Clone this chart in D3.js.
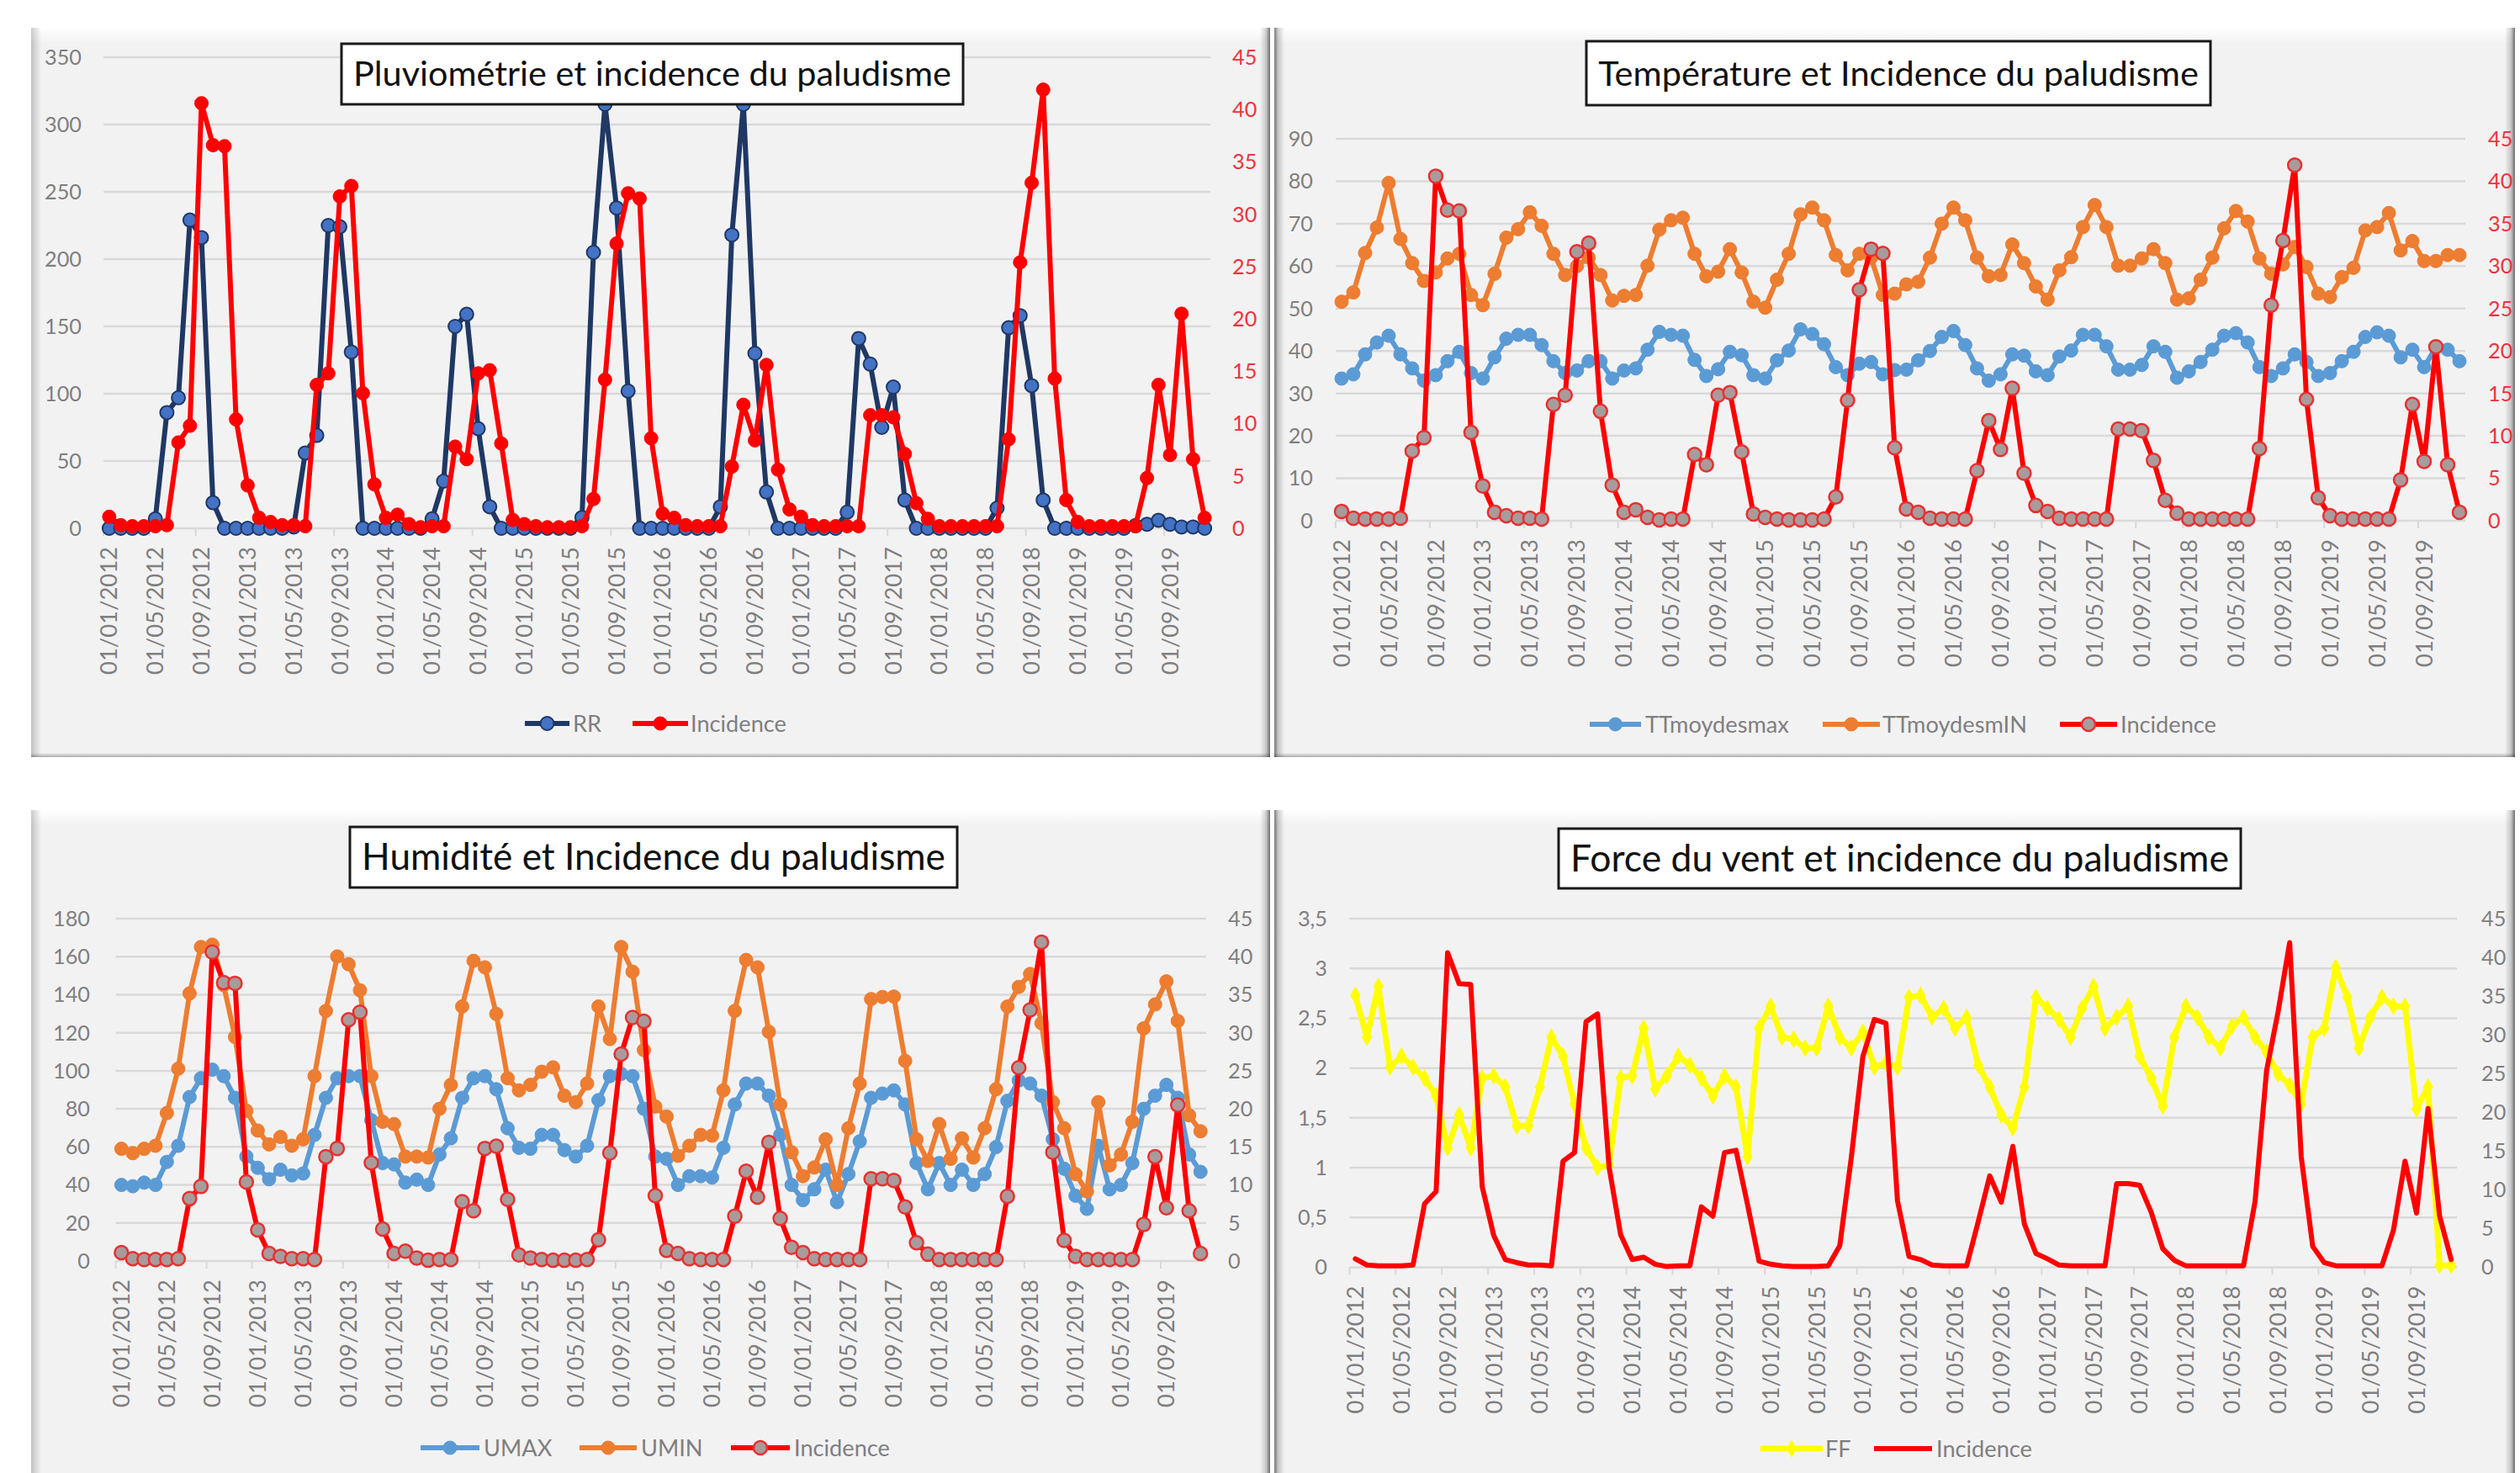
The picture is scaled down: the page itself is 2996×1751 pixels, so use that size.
<!DOCTYPE html>
<html><head><meta charset="utf-8">
<script src="https://cdn.jsdelivr.net/npm/d3@7"></script>
<style>html,body{margin:0;padding:0;background:#fff;} svg{display:block;}</style>
</head><body>
<svg id="c" width="2996" height="1751"></svg>
<script>
// ---------- DATA ----------
const years = [2012, 2013, 2014, 2015, 2016, 2017, 2018, 2019];
const monthNums = ["01","02","03","04","05","06","07","08","09","10","11","12"];
const categories = years.flatMap(y => monthNums.map(m => `01/${m}/${y}`));
const tickLabels = ["01/01/2012","01/05/2012","01/09/2012","01/01/2013","01/05/2013","01/09/2013",
  "01/01/2014","01/05/2014","01/09/2014","01/01/2015","01/05/2015","01/09/2015",
  "01/01/2016","01/05/2016","01/09/2016","01/01/2017","01/05/2017","01/09/2017",
  "01/01/2018","01/05/2018","01/09/2018","01/01/2019","01/05/2019","01/09/2019"];

const incidence = [1.1,0.3,0.2,0.2,0.2,0.3,8.2,9.8,40.6,36.6,36.5,10.4,
  4.1,1.0,0.6,0.3,0.3,0.2,13.7,14.8,31.7,32.7,12.9,4.2,
  1.0,1.3,0.4,0.1,0.2,0.2,7.8,6.6,14.8,15.1,8.1,0.8,
  0.4,0.2,0.1,0.1,0.1,0.2,2.8,14.2,27.2,32.0,31.5,8.6,
  1.4,1.0,0.3,0.2,0.2,0.2,5.9,11.8,8.4,15.6,5.6,1.8,
  1.1,0.3,0.2,0.2,0.2,0.2,10.8,10.8,10.6,7.1,2.4,0.9,
  0.2,0.2,0.2,0.2,0.2,0.2,8.5,25.4,33.0,41.9,14.3,2.7,
  0.6,0.2,0.2,0.2,0.2,0.2,4.8,13.7,7.0,20.5,6.6,1.0];

const RR = [0,0,0,0,7,86,97,229,216,19,0,0,
  0,0,0,0,1,56,69,225,224,131,0,0,
  0,0,0,0,7,35,150,159,74,16,0,0,
  0,0,0,0,0,8,205,315,238,102,0,0,
  0,0,0,0,0,16,218,315,130,27,0,0,
  0,0,0,0,12,141,122,75,105,21,0,0,
  0,0,0,0,0,15,149,158,106,21,0,0,
  0,0,0,0,0,2,3,6,3,1,1,0];

const TTmoydesmax = [33.5,34.5,39.2,42.0,43.6,39.2,35.9,33.0,34.3,37.6,39.8,34.8,
  33.5,38.5,42.9,43.8,43.8,41.4,37.6,34.8,35.4,37.6,37.6,33.5,
  35.4,35.9,40.3,44.5,43.8,43.6,37.9,34.1,35.7,39.8,39.0,34.3,
  33.5,37.8,40.1,45.1,44.0,41.6,36.2,34.3,37.0,37.4,34.5,35.5,
  35.6,37.8,40.0,43.3,44.7,41.4,35.9,33.0,34.5,39.2,38.9,35.2,
  34.3,38.7,40.1,43.8,43.8,41.1,35.6,35.6,36.7,41.1,39.8,33.7,
  35.2,37.4,40.3,43.6,44.2,42.0,36.2,34.1,35.9,39.2,37.4,34.1,
  34.8,37.6,39.8,43.3,44.4,43.6,38.5,40.3,36.2,40.9,40.3,37.6];

const TTmoydesmIN = [51.6,53.8,63.1,69.1,79.6,66.4,60.7,56.5,58.5,61.8,62.9,53.2,
  50.8,58.2,66.7,68.7,72.7,69.5,62.9,57.9,60.0,62.0,57.9,51.9,
  53.0,53.2,60.1,68.6,70.8,71.4,62.9,57.6,58.7,64.0,58.5,51.6,
  50.2,56.8,62.9,72.2,73.8,70.8,62.6,59.0,62.9,62.0,53.2,53.5,
  55.7,56.3,62.0,70.0,73.8,70.8,62.0,57.6,57.9,65.1,60.7,55.2,
  52.1,59.0,62.1,69.2,74.4,69.2,60.1,60.1,61.8,64.0,60.7,52.1,
  52.4,56.8,62.0,68.9,73.0,70.5,61.8,58.2,60.4,64.5,59.8,53.5,
  52.7,57.4,59.6,68.4,69.2,72.5,63.7,65.9,61.2,61.2,62.6,62.6];

const UMAX = [40,39.3,41.2,40,52.1,60.6,86.2,96.1,100.6,97.2,85.8,55,
  49,43,48,45,46,66.3,85.8,96.1,97.2,97.2,74,51.5,
  50.8,41.2,42.8,40,56,64.5,85.8,96.1,97.2,90.3,69.8,59.5,
  59,66.3,66.3,58.3,54.9,60.6,84.6,97.2,98.4,97.2,80,54.9,
  53.7,40,44.6,44.6,43.9,59.5,82.3,93.3,93.3,86.9,66.3,40,
  32,37.7,48,30.9,45.7,62.9,85.8,88,89.7,82.3,51.5,37.7,
  51.5,40,48,40,45.7,59.9,84.2,94.9,93.3,86.9,64,48.5,
  34.3,27.4,60.6,37.7,40,51.5,80,86.9,92.6,85.8,56,46.9];

const UMIN = [59,56.7,59,60.6,77.8,101.1,140.7,165.1,166.3,145,117.8,79,
  68.6,61.3,65.2,60.6,64,97.2,131.5,160.1,156,142.3,97.2,73.2,
  72,54.9,54.9,54.4,80,92.6,133.8,157.8,154.4,129.9,96.1,89.7,
  92.6,99.5,101.8,86.9,83.5,93.3,133.8,116.7,165.1,152.1,110.9,81.2,
  75.9,55.3,60.6,66.3,65.9,89.7,131.5,158.3,154.4,120.5,82.3,57.2,
  44.6,49.2,64,40,69.8,93.3,137.7,138.8,139,105.2,64,52.6,
  72,53.7,64.5,54.4,69.8,90.3,133.8,144.1,150.9,125,83.5,69.8,
  45.7,36.6,83.5,50.3,56,73.2,122.3,134.9,147,126.2,76.6,68.2];

const FF = [2.73,2.31,2.82,2.01,2.12,2.01,1.90,1.72,1.20,1.53,1.2,1.9,
  1.92,1.81,1.42,1.42,1.81,2.31,2.12,1.64,1.2,1.0,1.03,1.9,
  1.92,2.4,1.79,1.92,2.12,2.03,1.9,1.72,1.92,1.81,1.11,2.4,
  2.62,2.31,2.29,2.2,2.2,2.62,2.31,2.2,2.36,2.01,2.05,2.01,
  2.71,2.73,2.51,2.6,2.4,2.51,2.03,1.81,1.53,1.4,1.81,2.71,
  2.6,2.49,2.31,2.6,2.82,2.4,2.51,2.62,2.12,1.9,1.62,2.31,
  2.62,2.51,2.31,2.2,2.42,2.51,2.31,2.16,1.94,1.83,1.64,2.31,
  2.4,3.01,2.71,2.2,2.51,2.71,2.62,2.62,1.59,1.81,0.02,0.02];

const ticksRR = [0,50,100,150,200,250,300,350];
const ticksTemp = [0,10,20,30,40,50,60,70,80,90];
const ticksHum = [0,20,40,60,80,100,120,140,160,180];
const ticksFF = [0,0.5,1,1.5,2,2.5,3,3.5];
const ticksInc = [0,5,10,15,20,25,30,35,40,45];

// ---------- LAYOUT ----------
const FONT = "Lato, 'Liberation Sans', sans-serif";
const GRAY = "#7f7f7f";
const RED_LBL = "#ee3340";
const svg = d3.select("#c");
const defs = svg.append("defs");
function grad(id, x2, y2, stops) {
  const g = defs.append("linearGradient").attr("id", id).attr("x1", 0).attr("y1", 0).attr("x2", x2).attr("y2", y2);
  stops.forEach(s => g.append("stop").attr("offset", s[0]).attr("stop-color", s[1]).attr("stop-opacity", s[2]));
}
grad("gR", 1, 0, [[0, "#000", 0], [0.6, "#000", 0.18], [1, "#000", 0.55]]);
grad("gL", 1, 0, [[0, "#000", 0.5], [0.4, "#000", 0.18], [1, "#000", 0]]);
grad("gLl", 1, 0, [[0, "#000", 0.2], [1, "#000", 0]]);
grad("gT", 0, 1, [[0, "#fff", 1], [1, "#fff", 0]]);
grad("gB", 0, 1, [[0, "#000", 0], [1, "#000", 0.3]]);

const measurer = svg.append("text").attr("font-family", FONT).attr("x", -1000).attr("y", -1000);
function fitSize(str, target, base) {
  measurer.attr("font-size", base).text(str);
  const w = measurer.node().getComputedTextLength();
  return base * target / w;
}
const xLabelSize = fitSize("01/01/2012", 152, 30);
const yLabelSize = fitSize("350", 44, 27);
const legendSize = fitSize("Incidence", 114, 26);

const panels = [
  { frame: [37, 33, 1473, 867], leftDark: false,
    x0: 123, x1: 1439, y0: 628, yTop: 68, leftMax: 350, leftTicks: ticksRR, fmt: d => String(d),
    leftLabelX: 97, rightLabelX: 1465, rightColor: RED_LBL,
    title: "Pluviométrie et incidence du paludisme", box: [406, 52, 739, 72], legendY: 860,
    series: [
      { name: "RR", values: RR, axis: "L", color: "#1f3864", width: 6, marker: "circle", r: 8, mfill: "#4472c4", mstroke: "#1f3864", mw: 2, legend: [624, 677, 681] },
      { name: "Incidence", values: incidence, axis: "R", color: "#ff0000", width: 6, marker: "circle", r: 8, mfill: "#ff0000", mstroke: "#ff0000", mw: 1, legend: [752, 818, 821] }
    ] },
  { frame: [1515, 33, 1475, 867], leftDark: true,
    x0: 1588, x1: 2931, y0: 619, yTop: 165, leftMax: 90, leftTicks: ticksTemp, fmt: d => String(d),
    leftLabelX: 1561, rightLabelX: 2958, rightColor: RED_LBL,
    title: "Température et Incidence du paludisme", box: [1886, 49, 742, 76], legendY: 861,
    series: [
      { name: "TTmoydesmax", values: TTmoydesmax, axis: "L", color: "#5b9bd5", width: 6, marker: "circle", r: 8, mfill: "#5b9bd5", mstroke: "#5b9bd5", mw: 1, legend: [1890, 1951, 1956] },
      { name: "TTmoydesmIN", values: TTmoydesmIN, axis: "L", color: "#ed7d31", width: 6, marker: "circle", r: 8, mfill: "#ed7d31", mstroke: "#ed7d31", mw: 1, legend: [2167, 2235, 2238] },
      { name: "Incidence", values: incidence, axis: "R", color: "#ff0000", width: 6, marker: "circle", r: 8, mfill: "#a99b9b", mstroke: "#e83030", mw: 2.5, legend: [2449, 2517, 2521] }
    ] },
  { frame: [37, 963, 1473, 800], leftDark: false,
    x0: 137.6, x1: 1434, y0: 1499, yTop: 1092, leftMax: 180, leftTicks: ticksHum, fmt: d => String(d),
    leftLabelX: 107, rightLabelX: 1460, rightColor: GRAY,
    title: "Humidité et Incidence du paludisme", box: [416, 983, 722, 72], legendY: 1721,
    series: [
      { name: "UMAX", values: UMAX, axis: "L", color: "#5b9bd5", width: 6, marker: "circle", r: 8, mfill: "#5b9bd5", mstroke: "#5b9bd5", mw: 1, legend: [500, 570, 575] },
      { name: "UMIN", values: UMIN, axis: "L", color: "#ed7d31", width: 6, marker: "circle", r: 8, mfill: "#ed7d31", mstroke: "#ed7d31", mw: 1, legend: [689, 757, 762] },
      { name: "Incidence", values: incidence, axis: "R", color: "#ff0000", width: 6, marker: "circle", r: 8, mfill: "#a99b9b", mstroke: "#e83030", mw: 2.5, legend: [869, 939, 944] }
    ] },
  { frame: [1515, 963, 1475, 800], leftDark: true,
    x0: 1604.5, x1: 2921, y0: 1506.5, yTop: 1092, leftMax: 3.5, leftTicks: ticksFF, fmt: d => String(d).replace(".", ","),
    leftLabelX: 1578, rightLabelX: 2950, rightColor: GRAY,
    title: "Force du vent et incidence du paludisme", box: [1853, 985, 811, 71], legendY: 1722,
    series: [
      { name: "FF", values: FF, axis: "L", color: "#ffff00", width: 7, marker: "diamond", size: 130, mfill: "#ffff00", mstroke: "#ffff00", mw: 1, legend: [2093, 2167, 2170] },
      { name: "Incidence", values: incidence, axis: "R", color: "#ff0000", width: 6, marker: null, legend: [2228, 2297, 2302] }
    ] }
];

function drawMarker(sel, s, cx, cy) {
  if (s.marker === "circle") {
    sel.append("circle").attr("cx", cx).attr("cy", cy).attr("r", s.r)
      .attr("fill", s.mfill).attr("stroke", s.mstroke).attr("stroke-width", s.mw);
  } else if (s.marker === "diamond") {
    sel.append("path").attr("d", d3.symbol(d3.symbolDiamond, s.size)())
      .attr("transform", `translate(${cx},${cy})`).attr("fill", s.mfill);
  }
}

panels.forEach(p => {
  const g = svg.append("g");
  const [fx, fy, fw, fh] = p.frame;
  // frame with bevel shading
  g.append("rect").attr("x", fx).attr("y", fy).attr("width", fw).attr("height", fh).attr("fill", "#f3f2f3");
  g.append("rect").attr("x", fx).attr("y", fy).attr("width", fw).attr("height", 18).attr("fill", "url(#gT)");
  g.append("rect").attr("x", fx).attr("y", fy).attr("width", 12).attr("height", fh).attr("fill", p.leftDark ? "url(#gL)" : "url(#gLl)");
  g.append("rect").attr("x", fx + fw - 12).attr("y", fy).attr("width", 12).attr("height", fh).attr("fill", "url(#gR)");
  g.append("rect").attr("x", fx).attr("y", fy + fh - 5).attr("width", fw).attr("height", 5).attr("fill", "url(#gB)");

  const x = d3.scalePoint().domain(categories).range([p.x0, p.x1]).padding(0.5);
  const yL = d3.scaleLinear().domain([0, p.leftMax]).range([p.y0, p.yTop]);
  const yR = d3.scaleLinear().domain([0, 45]).range([p.y0, p.yTop]);

  // gridlines
  g.append("g").selectAll("line").data(p.leftTicks).join("line")
    .attr("x1", p.x0).attr("x2", p.x1).attr("y1", d => yL(d)).attr("y2", d => yL(d))
    .attr("stroke", "#d9d9d9").attr("stroke-width", 2.5);
  // x tick marks
  g.append("g").selectAll("line").data(tickLabels).join("line")
    .attr("x1", d => x(d) - x.step() / 2).attr("x2", d => x(d) - x.step() / 2)
    .attr("y1", p.y0).attr("y2", p.y0 + 9).attr("stroke", "#d9d9d9").attr("stroke-width", 2);

  // left labels
  g.append("g").selectAll("text").data(p.leftTicks).join("text")
    .attr("x", p.leftLabelX).attr("y", d => yL(d)).attr("dy", "0.35em")
    .attr("text-anchor", "end").attr("font-family", FONT).attr("font-size", yLabelSize)
    .attr("fill", GRAY).text(p.fmt);
  // right labels
  g.append("g").selectAll("text").data(ticksInc).join("text")
    .attr("x", p.rightLabelX).attr("y", d => yR(d)).attr("dy", "0.35em")
    .attr("text-anchor", "start").attr("font-family", FONT).attr("font-size", yLabelSize)
    .attr("fill", p.rightColor).text(d => String(d));
  // x labels
  g.append("g").selectAll("text").data(tickLabels).join("text")
    .attr("transform", d => `translate(${x(d)},${p.y0 + 22}) rotate(-90)`)
    .attr("dy", "0.35em").attr("text-anchor", "end")
    .attr("font-family", FONT).attr("font-size", xLabelSize).attr("fill", GRAY).text(d => d);

  // series
  p.series.forEach(s => {
    const y = s.axis === "L" ? yL : yR;
    const line = d3.line().x((d, i) => x(categories[i])).y(d => y(d));
    const sg = g.append("g");
    sg.append("path").datum(s.values).attr("d", line).attr("fill", "none")
      .attr("stroke", s.color).attr("stroke-width", s.width)
      .attr("stroke-linejoin", "round").attr("stroke-linecap", "round");
    if (s.marker) s.values.forEach((v, i) => drawMarker(sg, s, x(categories[i]), y(v)));
  });

  // title box
  const [bx, by, bw, bh] = p.box;
  g.append("rect").attr("x", bx).attr("y", by).attr("width", bw).attr("height", bh)
    .attr("fill", "#fff").attr("stroke", "#1a1a1a").attr("stroke-width", 3);
  const ts = fitSize(p.title, bw - 28, 46);
  g.append("text").attr("x", bx + bw / 2).attr("y", by + bh / 2).attr("dy", "0.35em")
    .attr("text-anchor", "middle").attr("font-family", FONT).attr("font-size", ts)
    .attr("fill", "#111").text(p.title);

  // legend
  p.series.forEach(s => {
    const [lx1, lx2, tx] = s.legend;
    g.append("line").attr("x1", lx1).attr("x2", lx2).attr("y1", p.legendY).attr("y2", p.legendY)
      .attr("stroke", s.color).attr("stroke-width", s.width);
    if (s.marker) drawMarker(g, s, (lx1 + lx2) / 2, p.legendY);
    g.append("text").attr("x", tx).attr("y", p.legendY).attr("dy", "0.35em")
      .attr("font-family", FONT).attr("font-size", legendSize).attr("fill", GRAY).text(s.name);
  });
});
measurer.remove();
</script>
</body></html>
